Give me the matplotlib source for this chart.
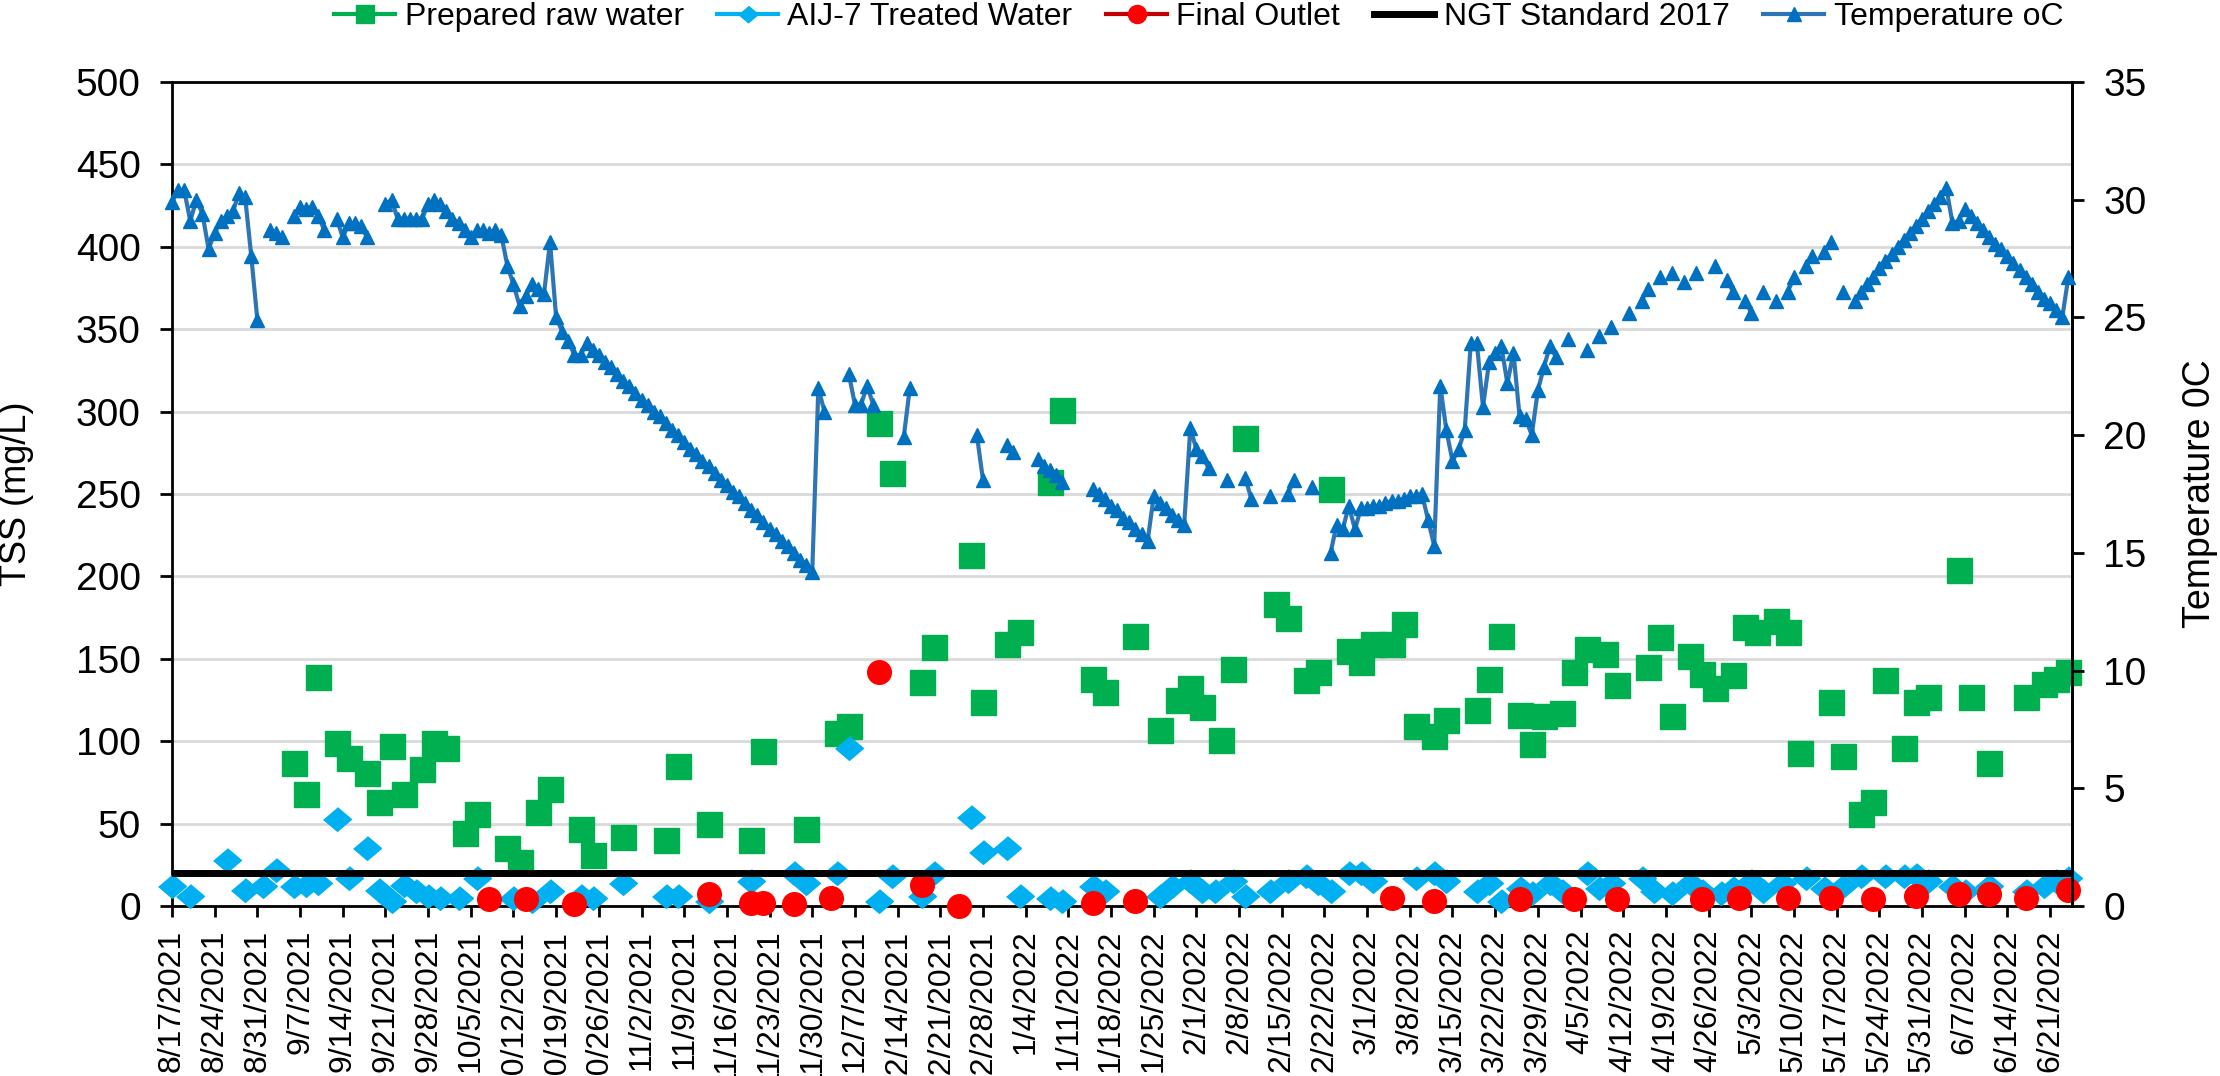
import matplotlib
matplotlib.use('Agg')
import matplotlib.pyplot as plt
from matplotlib.lines import Line2D
import matplotlib.dates as mdates
import pandas as pd
import numpy as np

plt.rcParams['font.family'] = ['Liberation Sans', 'DejaVu Sans']

# ---------------- data ----------------
raw_dates = ['2021-09-06', '2021-09-08', '2021-09-10', '2021-09-13', '2021-09-15', '2021-09-18', '2021-09-20',
             '2021-09-22', '2021-09-24', '2021-09-27', '2021-09-29', '2021-10-01', '2021-10-04', '2021-10-06',
             '2021-10-11', '2021-10-13', '2021-10-16', '2021-10-18', '2021-10-23', '2021-10-25', '2021-10-30',
             '2021-11-06', '2021-11-08', '2021-11-13', '2021-11-20', '2021-11-22', '2021-11-29', '2021-12-04',
             '2021-12-06', '2021-12-11', '2021-12-13', '2021-12-18', '2021-12-20', '2021-12-26', '2021-12-28',
             '2022-01-01', '2022-01-03', '2022-01-08', '2022-01-10', '2022-01-15', '2022-01-17', '2022-01-22',
             '2022-01-26', '2022-01-29', '2022-01-31', '2022-02-02', '2022-02-05', '2022-02-07', '2022-02-09',
             '2022-02-14', '2022-02-16', '2022-02-19', '2022-02-21', '2022-02-23', '2022-02-26', '2022-02-28',
             '2022-03-02', '2022-03-05', '2022-03-07', '2022-03-09', '2022-03-12', '2022-03-14', '2022-03-19',
             '2022-03-21', '2022-03-23', '2022-03-26', '2022-03-28', '2022-03-30', '2022-04-02', '2022-04-04',
             '2022-04-06', '2022-04-09', '2022-04-11', '2022-04-16', '2022-04-18', '2022-04-20', '2022-04-23',
             '2022-04-25', '2022-04-27', '2022-04-30', '2022-05-02', '2022-05-04', '2022-05-07', '2022-05-09',
             '2022-05-11', '2022-05-16', '2022-05-18', '2022-05-21', '2022-05-23', '2022-05-25', '2022-05-28',
             '2022-05-30', '2022-06-01', '2022-06-06', '2022-06-08', '2022-06-11', '2022-06-17', '2022-06-20',
             '2022-06-22', '2022-06-24']
raw_tss = [87, 68, 139, 99, 90, 81, 63,
           97, 68, 83, 99, 96, 44, 56,
           35, 27, 57, 71, 47, 31, 42,
           40, 85, 50, 40, 94, 47, 105,
           109, 293, 263, 136, 157, 213, 124,
           159, 166, 257, 301, 138, 130, 164,
           107, 125, 132, 121, 101, 144, 284,
           183, 175, 137, 142, 253, 155, 148,
           159, 159, 171, 109, 103, 113, 119,
           138, 164, 116, 98, 115, 117, 142,
           156, 153, 134, 145, 163, 115, 152,
           141, 132, 140, 169, 166, 173, 166,
           93, 124, 91, 56, 63, 137, 96,
           124, 127, 204, 127, 87, 127, 135,
           138, 142]

aij_dates = ['2021-08-17', '2021-08-20', '2021-08-26', '2021-08-29', '2021-09-01', '2021-09-03', '2021-09-06',
             '2021-09-08', '2021-09-10', '2021-09-13', '2021-09-15', '2021-09-18', '2021-09-20', '2021-09-22',
             '2021-09-24', '2021-09-26', '2021-09-28', '2021-09-30', '2021-10-03', '2021-10-06', '2021-10-12',
             '2021-10-15', '2021-10-18', '2021-10-23', '2021-10-25', '2021-10-30', '2021-11-06', '2021-11-08',
             '2021-11-13', '2021-11-20', '2021-11-27', '2021-11-29', '2021-12-04', '2021-12-06', '2021-12-11',
             '2021-12-13', '2021-12-18', '2021-12-20', '2021-12-26', '2021-12-28', '2022-01-01', '2022-01-03',
             '2022-01-08', '2022-01-10', '2022-01-15', '2022-01-17', '2022-01-26', '2022-01-28', '2022-01-31',
             '2022-02-02', '2022-02-04', '2022-02-07', '2022-02-09', '2022-02-13', '2022-02-16', '2022-02-19',
             '2022-02-21', '2022-02-23', '2022-02-26', '2022-02-28', '2022-03-02', '2022-03-09', '2022-03-12',
             '2022-03-14', '2022-03-19', '2022-03-21', '2022-03-23', '2022-03-26', '2022-03-28', '2022-03-31',
             '2022-04-02', '2022-04-06', '2022-04-08', '2022-04-10', '2022-04-15', '2022-04-17', '2022-04-20',
             '2022-04-23', '2022-04-25', '2022-04-28', '2022-04-30', '2022-05-03', '2022-05-05', '2022-05-08',
             '2022-05-12', '2022-05-15', '2022-05-18', '2022-05-21', '2022-05-25', '2022-05-28', '2022-05-30',
             '2022-06-01', '2022-06-05', '2022-06-07', '2022-06-11', '2022-06-17', '2022-06-20', '2022-06-22',
             '2022-06-24']
aij_tss = [12, 6, 28, 10, 12, 22, 12,
           13, 14, 53, 17, 35, 10, 3,
           13, 9, 6, 5, 5, 17, 5,
           3, 9, 6, 5, 14, 6, 6,
           3, 15, 20, 14, 20, 96, 3,
           18, 6, 20, 54, 33, 35, 6,
           5, 3, 12, 9, 6, 12, 15,
           9, 9, 15, 6, 9, 15, 18,
           14, 9, 20, 20, 15, 17, 20,
           15, 9, 14, 3, 11, 8, 14,
           9, 20, 11, 14, 17, 9, 8,
           14, 9, 8, 11, 15, 9, 14,
           17, 11, 12, 18, 18, 18, 19,
           15, 12, 9, 12, 9, 12, 15,
           17]

outlet_dates = ['2021-10-08', '2021-10-14', '2021-10-22', '2021-11-13', '2021-11-20', '2021-11-22', '2021-11-27',
                '2021-12-03', '2021-12-11', '2021-12-18', '2021-12-24', '2022-01-15', '2022-01-22', '2022-03-05',
                '2022-03-12', '2022-03-26', '2022-04-04', '2022-04-11', '2022-04-25', '2022-05-01', '2022-05-09',
                '2022-05-16', '2022-05-23', '2022-05-30', '2022-06-06', '2022-06-11', '2022-06-17', '2022-06-24']
outlet_tss = [4, 4, 1, 7, 2, 2, 1,
              5, 142, 13, 0, 2, 3, 5,
              3, 4, 4, 4, 4, 5, 5,
              5, 4, 6, 7, 7, 5, 10]

ngt_standard = 20

# daily temperature (oC) starting 8/17/2021, None = no reading
temp_start = '2021-08-17'
temp_c = [
    29.9, 30.4, 30.4, 29.1, 30.0, 29.4, 27.9, 28.6, 29.1, 29.3,
    29.5, 30.3, 30.1, 27.6, 24.9, None, 28.7, 28.6, 28.4, None,
    29.3, 29.7, 29.6, 29.7, 29.3, 28.7, None, 29.2, 28.4, 29.0,
    29.0, 28.9, 28.4, None, None, 29.8, 30.0, 29.2, 29.2, 29.2,
    29.2, 29.2, 29.8, 30.0, 29.8, 29.5, 29.2, 29.0, 28.7, 28.4,
    28.7, 28.7, 28.6, 28.7, 28.5, 27.2, 26.4, 25.5, 25.9, 26.4,
    26.2, 26.0, 28.2, 25.0, 24.4, 24.0, 23.4, 23.4, 23.9, 23.6,
    23.4, 23.1, 22.9, 22.6, 22.3, 22.1, 21.8, 21.5, 21.3, 21.0,
    20.8, 20.5, 20.2, 20.0, 19.7, 19.4, 19.2, 18.9, 18.7, 18.4,
    18.1, 17.9, 17.6, 17.4, 17.1, 16.8, 16.6, 16.3, 16.0, 15.8,
    15.5, 15.3, 15.0, 14.7, 14.5, 14.2, 22.0, 21.0, None, None,
    None, 22.6, 21.3, 21.3, 22.1, 21.3, None, None, None, None,
    19.9, 22.0, None, None, None, None, None, None, None, None,
    None, None, 20.0, 18.1, None, None, None, 19.6, 19.3, None,
    None, None, 19.0, 18.7, 18.5, 18.3, 18.0, None, None, None,
    None, 17.7, 17.5, 17.3, 17.0, 16.8, 16.5, 16.3, 16.0, 15.8,
    15.5, 17.4, 17.1, 16.9, 16.6, 16.4, 16.2, 20.3, 19.4, 19.1,
    18.6, None, None, 18.1, None, None, 18.2, 17.3, None, None,
    17.4, None, None, 17.5, 18.1, None, None, 17.8, None, None,
    15.0, 16.2, 16.0, 17.0, 16.0, 16.9, 16.9, 17.0, 17.0, 17.1,
    17.2, 17.2, 17.3, 17.4, 17.4, 17.5, 16.4, 15.3, 22.1, 20.2,
    18.9, 19.4, 20.2, 23.9, 23.9, 21.2, 23.1, 23.5, 23.8, 22.2,
    23.5, 20.8, 20.7, 20.0, 21.9, 22.9, 23.8, 23.3, None, 24.1,
    None, None, 23.6, None, 24.2, None, 24.6, None, None, 25.2,
    None, 25.7, 26.2, None, 26.7, None, 26.9, None, 26.5, None,
    26.9, None, None, 27.2, None, 26.6, 26.1, None, 25.7, 25.2,
    None, 26.1, None, 25.7, None, 26.1, 26.7, None, 27.2, 27.6,
    None, 27.8, 28.2, None, 26.1, None, 25.7, 26.1, 26.4, 26.7,
    27.1, 27.4, 27.7, 28.0, 28.3, 28.6, 28.9, 29.2, 29.5, 29.8,
    30.1, 30.5, 29.0, 29.1, 29.6, 29.3, 29.0, 28.7, 28.4, 28.1,
    27.9, 27.6, 27.3, 27.0, 26.7, 26.4, 26.1, 25.8, 25.6, 25.3,
    25.0, 26.7,
]

tick_first = '2021-08-17'
tick_last = '2022-06-21'

# ---------------- figure ----------------
raw_dt = pd.to_datetime(raw_dates)
aij_dt = pd.to_datetime(aij_dates)
out_dt = pd.to_datetime(outlet_dates)
temp_dt = pd.date_range(temp_start, periods=len(temp_c), freq='D')
temp_vals = pd.Series(temp_c, dtype=float).values

fig = plt.figure(figsize=(22.2, 10.76), dpi=100)
ax = fig.add_axes([172 / 2220, 1 - 906 / 1076, 1900 / 2220, 824 / 1076])

GREEN = '#00b050'
CYAN = '#00b0f0'
RED = '#ff0000'
BLUE_LINE = '#2e75b6'
BLUE_MK = '#0070c0'
diamond = [(0, 0.85), (1, 0), (0, -0.85), (-1, 0)]

ax.plot(raw_dt, raw_tss, ls='none', marker='s', ms=18, color=GREEN, mec=GREEN,
        clip_on=False, zorder=3)
ax.plot(aij_dt, aij_tss, ls='none', marker=diamond, ms=20, color=CYAN, mec=CYAN,
        clip_on=False, zorder=3)
ax.plot(out_dt, outlet_tss, ls='none', marker='o', ms=17, color=RED, mec=RED,
        clip_on=False, zorder=4)
ax.axhline(ngt_standard, color='black', lw=5, zorder=5)

ax.set_ylim(0, 500)
ax.set_yticks(np.arange(0, 501, 50))
x0 = mdates.date2num(pd.Timestamp(tick_first))
ax.set_xlim(x0, x0 + 311.6)
ticks = pd.date_range(tick_first, tick_last, freq='7D')
ax.set_xticks(ticks)
ax.set_xticklabels([f'{t.month}/{t.day}/{t.year}' for t in ticks], rotation=90)

ax.yaxis.grid(True, color='#d9d9d9', lw=2)
ax.set_axisbelow(True)
for s in ax.spines.values():
    s.set_color('black')
    s.set_linewidth(2)
ax.tick_params(axis='y', direction='out', length=8.5, width=2, labelsize=28, pad=14)
ax.tick_params(axis='x', direction='out', length=8, width=2, labelsize=23, pad=9)

ax2 = ax.twinx()
ax2.plot(temp_dt, temp_vals, color=BLUE_LINE, lw=3, marker='^', ms=10.5,
         mfc=BLUE_MK, mec=BLUE_MK, clip_on=False, zorder=3)
ax2.set_ylim(0, 35)
ax2.set_yticks(np.arange(0, 36, 5))
ax2.set_xlim(x0, x0 + 311.6)
for k in ['left', 'bottom', 'top']:
    ax2.spines[k].set_visible(False)
ax2.spines['right'].set_linewidth(2)
ax2.tick_params(axis='y', direction='out', length=8.5, width=2, labelsize=28, pad=14)

fig.text(17 / 2220, 1 - 494 / 1076, 'TSS (mg/L)', rotation=90, ha='center', va='center', fontsize=26)
fig.text(2200 / 2220, 1 - 494 / 1076, 'Temperature 0C', rotation=90, ha='center', va='center', fontsize=27)

handles = [
    Line2D([], [], color=GREEN, lw=3, marker='s', ms=13, mec=GREEN),
    Line2D([], [], color=CYAN, lw=3, marker=diamond, ms=14, mec=CYAN),
    Line2D([], [], color='#c00000', lw=3, marker='o', ms=13, mfc=RED, mec=RED),
    Line2D([], [], color='black', lw=5),
    Line2D([], [], color=BLUE_LINE, lw=3, marker='^', ms=10, mfc=BLUE_MK, mec=BLUE_MK),
]
labels = ['Prepared raw water', 'AIJ-7 Treated Water', 'Final Outlet', 'NGT Standard 2017', 'Temperature oC']
fig.legend(handles, labels, loc='center', bbox_to_anchor=(0.540, 0.984), ncol=5, frameon=False,
           fontsize=23, handlelength=1.9, handletextpad=0.3, columnspacing=1.05)

fig.savefig('out.png', dpi=100)
